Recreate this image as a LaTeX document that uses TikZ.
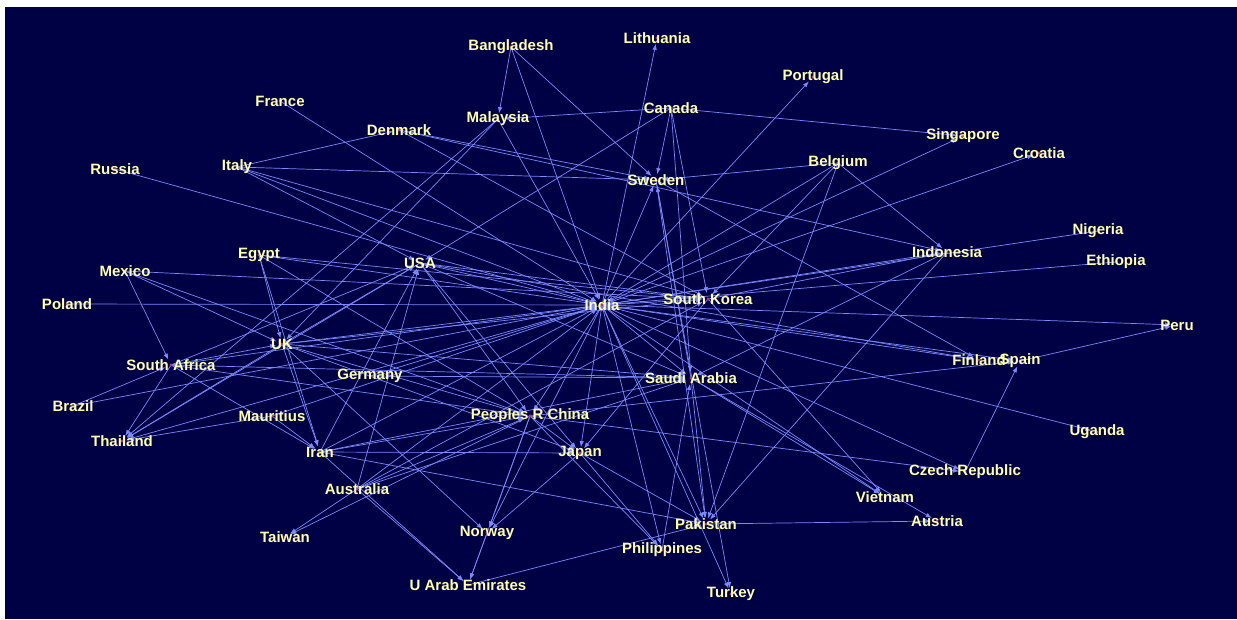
\documentclass[tikz,border=0pt]{standalone}
\usepackage{fontspec}
\setmainfont{Liberation Sans}
\usetikzlibrary{arrows.meta}
\pgfdeclarelayer{bglayer}
\pgfdeclarelayer{edgelayer}
\pgfsetlayers{bglayer,edgelayer,main}
\definecolor{navy}{RGB}{0,0,68}
\definecolor{edgec}{RGB}{122,138,252}
\definecolor{labc}{RGB}{255,255,172}
\definecolor{dotc}{RGB}{190,50,110}
\begin{document}
\begin{tikzpicture}[x=1pt,y=-1pt,
  lbl/.style={text=labc,font=\bfseries\fontsize{15}{18}\selectfont,inner sep=0pt},
  edge/.style={draw=edgec,line width=0.7pt,-{Latex[length=6pt,width=4.5pt]},shorten >=6pt},
  ndot/.style={fill=dotc}]
\useasboundingbox (0,0) rectangle (1237,619);
\begin{pgfonlayer}{bglayer}
\fill[white] (0,0) rectangle (1237,619);
\fill[navy] (5,7) rectangle (1237,619);
\end{pgfonlayer}
% nodes
\node[lbl] (bgd) at (511,47) {Bangladesh};
\node[lbl] (lit) at (657,38) {Lithuania};
\node[lbl] (por) at (813,77) {Portugal};
\node[lbl] (fra) at (280,101) {France};
\node[lbl] (can) at (671,108) {Canada};
\node[lbl] (mal) at (498,119) {Malaysia};
\node[lbl] (den) at (399,130) {Denmark};
\node[lbl] (sgp) at (963,136) {Singapore};
\node[lbl] (cro) at (1039,153) {Croatia};
\node[lbl] (bel) at (838,163) {Belgium};
\node[lbl] (rus) at (115,169) {Russia};
\node[lbl] (ita) at (237,167) {Italy};
\node[lbl] (swe) at (656,180) {Sweden};
\node[lbl] (idn) at (947,252) {Indonesia};
\node[lbl] (nga) at (1098,231) {Nigeria};
\node[lbl] (eth) at (1116,262) {Ethiopia};
\node[lbl] (egy) at (259,255) {Egypt};
\node[lbl] (mex) at (125,271) {Mexico};
\node[lbl] (usa) at (420,263) {USA};
\node[lbl] (ind) at (602,305) {India};
\node[lbl] (kor) at (708,299) {South Korea};
\node[lbl] (pol) at (67,304) {Poland};
\node[lbl] (per) at (1177,325) {Peru};
\node[lbl] (uk)  at (282,344) {UK};
\node[lbl] (zaf) at (171,365) {South Africa};
\node[lbl] (ger) at (370,376) {Germany};
\node[lbl] (sau) at (691,378) {Saudi Arabia};
\node[lbl] (fin) at (979,360) {Finland};
\node[lbl] (esp) at (1020,361) {Spain};
\node[lbl] (bra) at (73,406) {Brazil};
\node[lbl] (mau) at (272,416) {Mauritius};
\node[lbl] (prc) at (530,416) {Peoples R China};
\node[lbl] (tha) at (122,441) {Thailand};
\node[lbl] (uga) at (1097,432) {Uganda};
\node[lbl] (irn) at (320,452) {Iran};
\node[lbl] (jpn) at (580,453) {Japan};
\node[lbl] (cze) at (965,472) {Czech Republic};
\node[lbl] (aus) at (357,489) {Australia};
\node[lbl] (vnm) at (885,497) {Vietnam};
\node[lbl] (aut) at (937,521) {Austria};
\node[lbl] (pak) at (706,524) {Pakistan};
\node[lbl] (nor) at (487,533) {Norway};
\node[lbl] (twn) at (285,537) {Taiwan};
\node[lbl] (phl) at (662,550) {Philippines};
\node[lbl] (uae) at (468,585) {U Arab Emirates};
\node[lbl] (tur) at (731,594) {Turkey};
\begin{pgfonlayer}{edgelayer}
\foreach \a/\b in {
 ind/lit, ind/por, bgd/ind, bgd/mal, bgd/swe, mal/ind, can/mal, can/sgp, can/swe,
 can/kor, can/sau, can/usa, fra/ind, ita/den, ita/swe, ita/ind, ita/usa, ita/kor,
 rus/ind, den/swe, den/idn, den/kor, bel/swe, swe/fin, swe/tur, ind/swe, sau/swe,
 bel/idn, bel/ind, bel/kor, bel/pak, ind/sgp, ind/cro, ind/idn, kor/idn, idn/sau, idn/pak,
 nga/ind, eth/ind, ind/per, esp/per, ind/fin, ind/esp, prc/esp, cze/esp, ind/uga,
 ind/cze, prc/cze, kor/vnm, ind/vnm, sau/vnm, sau/aut, pak/aut, mex/zaf, mex/kor,
 mex/prc, mex/uk, egy/uk, egy/irn, egy/ind, egy/prc, egy/kor, pol/ind, zaf/usa,
 zaf/ind, zaf/uk, bra/zaf, bra/ind, zaf/prc, zaf/irn, zaf/sau, zaf/tha, uk/tha,
 usa/tha, mau/tha, mal/tha, mal/uk, ind/tha, mau/irn, mau/ind, uk/usa, uk/irn, uk/ind,
 uk/prc, uk/jpn, uk/sau, uk/kor, uk/nor, usa/ind, usa/kor, usa/sau, usa/jpn,
 usa/prc, usa/fin, irn/usa, aus/usa, ger/ind, ger/sau, irn/ind, irn/prc, irn/jpn,
 irn/sau, irn/uae, irn/pak, aus/twn, prc/twn, aus/uae, aus/ind, aus/prc, aus/kor,
 aus/sau, ind/prc, ind/kor, ind/sau, ind/jpn, prc/jpn, ind/nor, prc/nor, jpn/nor,
 nor/uae, prc/uae, uae/pak, jpn/phl, jpn/pak, kor/jpn, ind/phl, prc/phl, phl/sau,
 ind/pak, sau/pak, swe/pak, ind/tur}
 \draw[edge] (\a.center) -- (\b.center);
\foreach \n in {bgd,lit,por,fra,can,mal,den,sgp,cro,bel,rus,ita,swe,idn,nga,eth,egy,
 mex,usa,ind,kor,pol,per,uk,zaf,ger,sau,fin,esp,bra,mau,prc,tha,uga,irn,jpn,cze,aus,
 vnm,aut,pak,nor,twn,phl,uae,tur}
 \fill[ndot] (\n.center) circle (1.6);
\end{pgfonlayer}
\end{tikzpicture}
\end{document}
